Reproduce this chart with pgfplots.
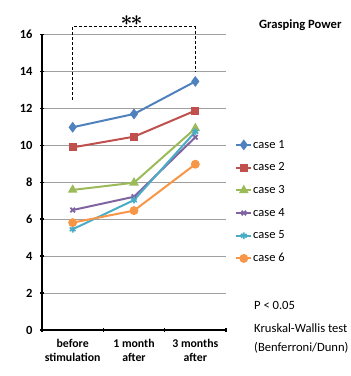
\documentclass[border=0pt]{standalone}
\usepackage{pgfplots}
\pgfplotsset{compat=1.18}
\usepackage{fontspec}
\setmainfont{Carlito}
\definecolor{c1}{HTML}{4F81BD}
\definecolor{c2}{HTML}{C0504D}
\definecolor{c3}{HTML}{9BBB59}
\definecolor{c4}{HTML}{8064A2}
\definecolor{c5}{HTML}{4BACC6}
\definecolor{c6}{HTML}{F79646}
\newcommand{\twostars}{{\fontsize{21}{21}\selectfont\boldmath$\ast$\hspace{-2pt}$\ast$}}
\begin{document}
\begin{tikzpicture}
\useasboundingbox (0pt,0pt) rectangle (351pt,376pt);
\begin{axis}[
  at={(42pt,46pt)}, anchor=south west,
  scale only axis, width=184pt, height=295.7pt,
  xmin=-0.5, xmax=2.5, ymin=0, ymax=16,
  ytick={0,2,...,16},
  xtick={0,1,2},
  xticklabels={{before\\stimulation},{1 month\\after},{3 months\\after}},
  minor xtick={-0.5,0.5,1.5,2.5},
  major tick length=4pt, minor tick length=4pt,
  major x tick style={draw=none},
  minor x tick style={black, line width=1.3pt},
  y tick style={black, line width=1.3pt},
  tick align=outside,
  axis x line=bottom, axis y line=left,
  axis line style={-, black, line width=1.8pt},
  ymajorgrids, grid style={gray!75, line width=1pt},
  /pgf/number format/assume math mode=true,
  xticklabel style={align=center, yshift=-4pt, font=\bfseries\fontsize{11.8}{13.5}\selectfont},
  yticklabel style={xshift=-4pt, font=\bfseries\fontsize{12.5}{14}\selectfont},
  clip=false,
  legend style={at={(1.05,0.665)}, anchor=north west, draw=none, fill=none,
    font=\fontsize{12.5}{14}\selectfont, row sep=0pt, inner sep=0pt,
    nodes={inner sep=1pt, minimum height=22.7pt}},
  legend cell align=left,
  legend image code/.code={\draw[mark repeat=2,mark phase=2] plot coordinates {(0cm,0cm)(0.26cm,0cm)(0.52cm,0cm)};},
]
\addplot[c1, line width=2pt, mark=diamond*, mark size=3.8pt] coordinates {(0,10.97)(1,11.69)(2,13.45)};
\addlegendentry{case 1}
\addplot[c2, line width=2pt, mark=square*, mark size=3pt] coordinates {(0,9.88)(1,10.46)(2,11.87)};
\addlegendentry{case 2}
\addplot[c3, line width=2pt, mark=triangle*, mark size=3.6pt] coordinates {(0,7.58)(1,7.97)(2,10.91)};
\addlegendentry{case 3}
\addplot[c4, line width=2pt, mark=x, mark size=3.2pt, mark options={line width=1.8pt}] coordinates {(0,6.49)(1,7.21)(2,10.43)};
\addlegendentry{case 4}
\addplot[c5, line width=2pt, mark=asterisk, mark size=3.4pt, mark options={line width=1.7pt}] coordinates {(0,5.45)(1,7.03)(2,10.73)};
\addlegendentry{case 5}
\addplot[c6, line width=2pt, mark=*, mark size=3.4pt] coordinates {(0,5.81)(1,6.46)(2,8.97)};
\addlegendentry{case 6}
\draw[densely dashed, black, line width=0.7pt] (axis cs:0,12.45) -- (axis cs:0,16.41) -- (axis cs:2,16.41) -- (axis cs:2,14.0);
\node[anchor=south, inner sep=1.5pt] at (axis cs:0.96,16.41) {\twostars};
\end{axis}
\node[anchor=west, inner sep=0pt] at (259pt,351pt) {\bfseries\fontsize{12.6}{14}\selectfont Grasping Power};
\node[anchor=west, inner sep=0pt] at (254pt,71pt) {\fontsize{12.6}{15}\selectfont P < 0.05};
\node[anchor=west, inner sep=0pt] at (254pt,48pt) {\fontsize{12.6}{15}\selectfont Kruskal-Wallis test};
\node[anchor=west, inner sep=0pt] at (254pt,28pt) {\fontsize{12.6}{15}\selectfont (Benferroni/Dunn)};
\end{tikzpicture}
\end{document}
